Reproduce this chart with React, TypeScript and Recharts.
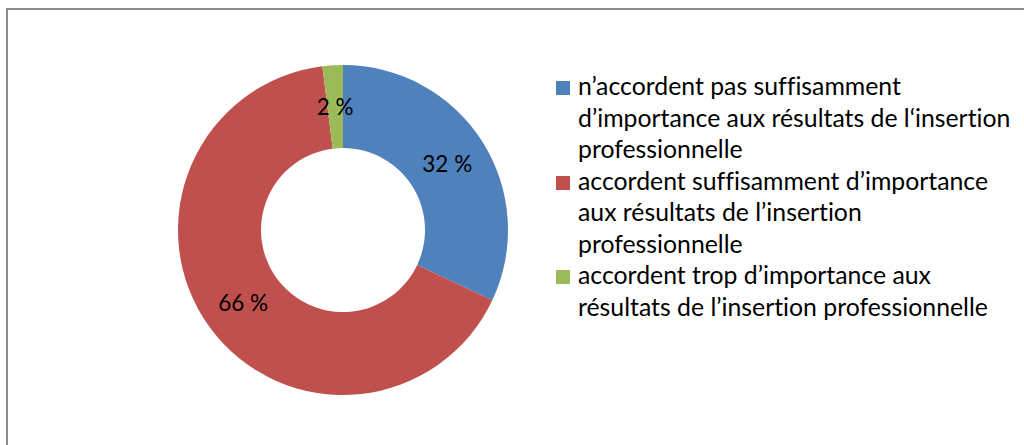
import { PieChart, Pie, Cell, Legend } from "recharts"

const categories = [
  "n’accordent pas suffisamment\nd’importance aux résultats de l‘insertion\nprofessionnelle",
  "accordent suffisamment d’importance\naux résultats de l’insertion\nprofessionnelle",
  "accordent trop d’importance aux\nrésultats de l’insertion professionnelle",
]
const shares = [32, 66, 2]
const COLORS = ["#4F81BD", "#C0504D", "#9BBB59"]

const data = categories.map((name, i) => ({ name, value: shares[i] }))

const FONT = "Lato, 'Open Sans', sans-serif"
const RAD = Math.PI / 180

// value label placed at the middle of the ring
const renderLabel = (p: any) => {
  const r = (p.innerRadius + p.outerRadius) / 2
  const x = p.cx + r * Math.cos(-p.midAngle * RAD)
  const y = p.cy + r * Math.sin(-p.midAngle * RAD)
  return (
    <text x={x} y={y} fill="#000" fontSize={22.5} fontFamily={FONT} textAnchor="middle" dominantBaseline="central">
      {`${p.value} %`}
    </text>
  )
}

const renderLegend = () => (
  <div
    style={{
      fontFamily: FONT,
      fontSize: 24.8,
      lineHeight: "31.5px",
      color: "#000",
      fontVariantLigatures: "none",
    }}
  >
    {data.map((d, i) => (
      <div key={i} style={{ display: "flex", alignItems: "flex-start" }}>
        <span style={{ width: 14, height: 14, marginTop: 11, marginRight: 8, background: COLORS[i], flex: "none" }} />
        <span style={{ whiteSpace: "pre-line" }}>{d.name}</span>
      </div>
    ))}
  </div>
)

export default function App() {
  return (
    <div
      style={{
        position: "absolute",
        left: 6,
        top: 8,
        width: 1018,
        height: 437,
        overflow: "hidden",
        boxSizing: "border-box",
        borderTop: "2px solid #8c8c8c",
        borderLeft: "2px solid #8c8c8c",
        background: "#fff",
      }}
    >
      <PieChart width={1016} height={435} margin={{ top: 0, right: 0, bottom: 0, left: 0 }}>
        <Pie
          data={data}
          dataKey="value"
          cx={335}
          cy={220}
          innerRadius={82}
          outerRadius={165}
          startAngle={90}
          endAngle={-270}
          stroke="none"
          label={renderLabel}
          labelLine={false}
          isAnimationActive={false}
        >
          {data.map((d, i) => (
            <Cell key={i} fill={COLORS[i]} />
          ))}
        </Pie>
        <Legend content={renderLegend} wrapperStyle={{ left: 548, top: 60, width: 466 }} />
      </PieChart>
    </div>
  )
}
